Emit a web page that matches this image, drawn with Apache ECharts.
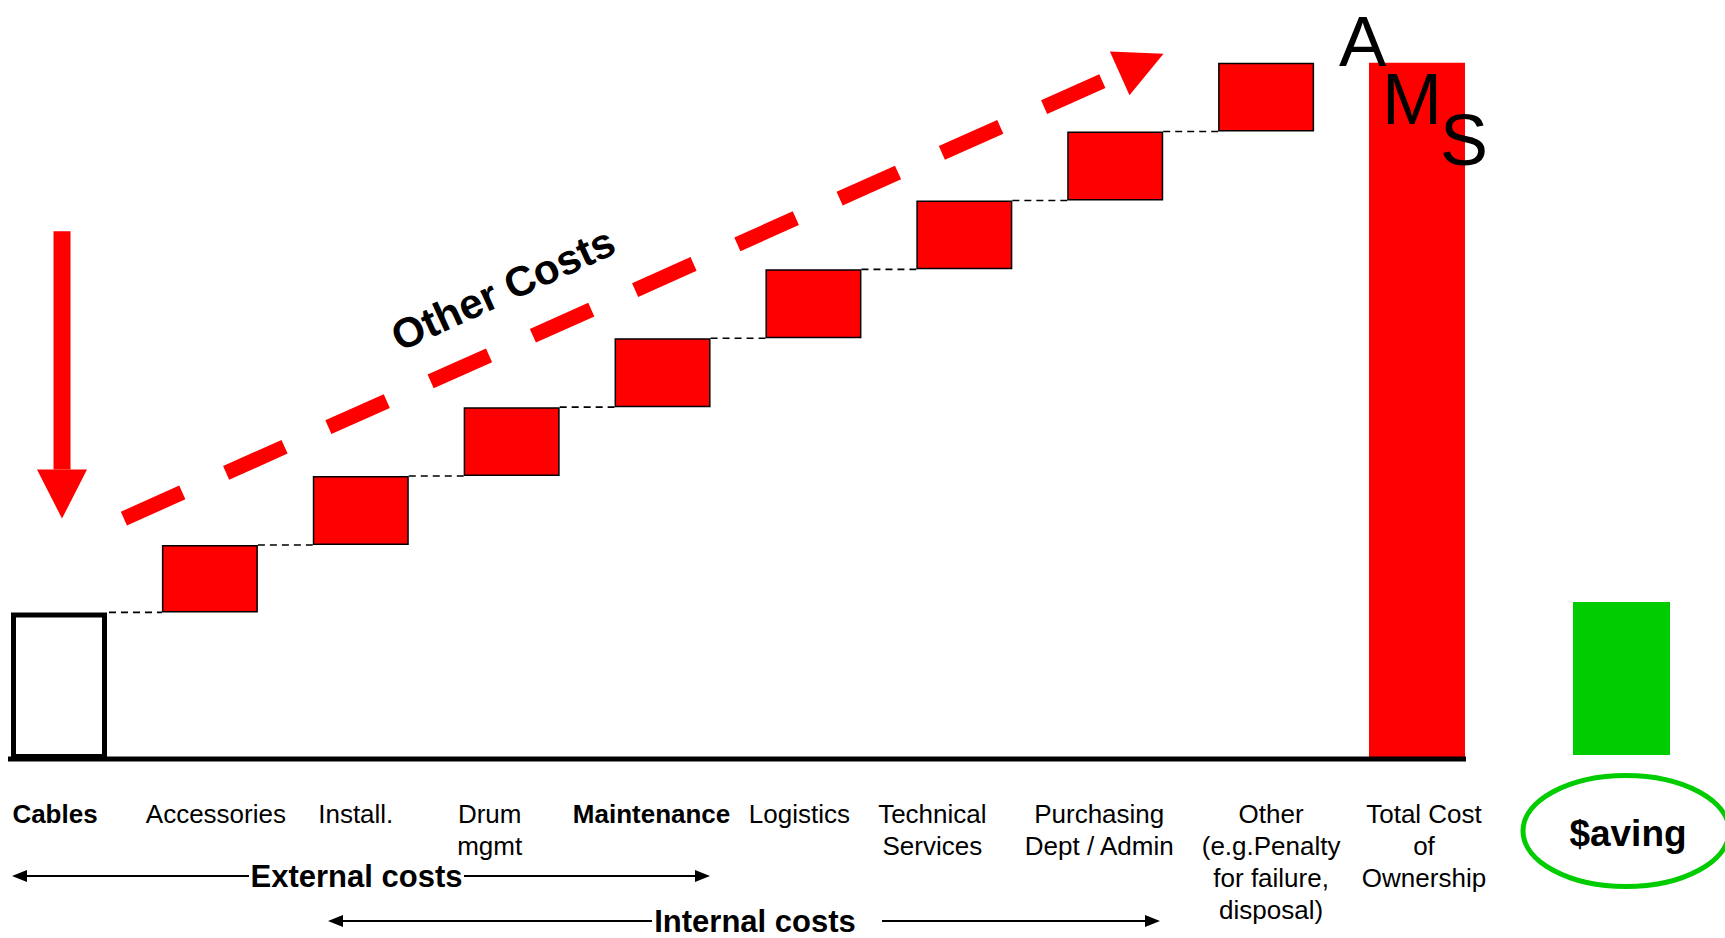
<!DOCTYPE html>
<html><head><meta charset="utf-8">
<script src="https://cdn.jsdelivr.net/npm/echarts@6/dist/echarts.min.js"></script>
<style>html,body{margin:0;padding:0;background:#fff}#c{width:1725px;height:938px}</style>
</head><body><div id="c"></div>
<script>
// ---------- data ----------
const categories = ['Cables', 'Accessories', 'Install.', 'Drum\nmgmt', 'Maintenance', 'Logistics',
  'Technical\nServices', 'Purchasing\nDept / Admin', 'Other\n(e.g.Penalty\nfor failure,\ndisposal)',
  'Total Cost\nof\nOwnership'];
const boldCategories = ['Cables', 'Maintenance'];
const cablesCost = 100;
const otherCosts = [46, 47, 47, 47, 47, 47, 47, 47];   // Accessories ... Other
const savingValue = 105;
const savingLabel = '$aving';
const trendLabel = 'Other Costs';
const amsLetters = ['A', 'M', 'S'];
const externalLabel = 'External costs';
const internalLabel = 'Internal costs';
// annotation anchors in data units [category index, cost]
const downArrow = [[0.02, 360], [0.02, 164]];
const trendArrow = [[0.43, 164], [7.32, 481]];

// ---------- derived waterfall ----------
const baseVals = [0];
const costVals = [cablesCost];
let running = cablesCost;
otherCosts.forEach(v => { baseVals.push(running); costVals.push(v); running += v; });
baseVals.push(0); costVals.push(running);

// ---------- styles ----------
const FONT = '"Liberation Sans", Arial, Helvetica, sans-serif';
const RED = '#FF0000', GREEN = '#00CC00';
const BAR_W = 96;
const labelDx = [-4, 6, -5, -22, -11, -14, -32, -16, 5, 7];

const chart = echarts.init(document.getElementById('c'), null, {renderer: 'svg', width: 1725, height: 938});

const costData = costVals.map((v, i) => {
  let st;
  if (i === 0) st = {color: '#FFFFFF', borderColor: '#000', borderWidth: 5};
  else if (i === costVals.length - 1) st = {color: RED, borderWidth: 0};
  else st = {color: RED, borderColor: '#000', borderWidth: 1.5};
  return {value: v, itemStyle: st};
});

const last = categories.length - 1;

chart.setOption({
  animation: false,
  backgroundColor: '#FFFFFF',
  grid: [
    {left: 59, width: 1358, top: 26, bottom: 179},
    {left: 1561.5, width: 120, top: 26, bottom: 183}
  ],
  xAxis: [
    {type: 'category', gridIndex: 0, data: categories, boundaryGap: false, show: false},
    {type: 'value', gridIndex: 0, min: 0, max: last, show: false},
    {type: 'category', gridIndex: 1, data: [savingLabel], show: false}
  ],
  yAxis: [
    {type: 'value', gridIndex: 0, min: 0, max: 500, show: false},
    {type: 'value', gridIndex: 1, min: 0, max: 500, show: false}
  ],
  series: [
    {name: 'base', type: 'bar', xAxisIndex: 0, yAxisIndex: 0, stack: 'w', barWidth: BAR_W, clip: false,
      data: baseVals, itemStyle: {color: 'rgba(0,0,0,0)'}, silent: true, z: 3},
    {name: 'cost', type: 'bar', xAxisIndex: 0, yAxisIndex: 0, stack: 'w', barWidth: BAR_W, clip: false,
      data: costData, silent: true, z: 3},
    {name: 'saving', type: 'bar', xAxisIndex: 2, yAxisIndex: 1, barWidth: 97,
      data: [savingValue], itemStyle: {color: GREEN}, silent: true, z: 3}
  ]
});

// ---------- overlays computed through the chart's scales ----------
const P = (x, y) => chart.convertToPixel({xAxisIndex: 1, yAxisIndex: 0}, [x, y]);
const g = [];
function txt(x, y, text, size, weight, align, valign, extra) {
  return {type: 'text', x: x, y: y, z: 100, silent: true,
    style: Object.assign({text: text, x: 0, y: 0, fill: '#000',
      font: (weight || 'normal') + ' ' + size + 'px ' + FONT,
      align: align, textAlign: align, verticalAlign: valign, textVerticalAlign: valign}, extra || {})};
}
function poly(points, fill, z) {
  return {type: 'polygon', z: z || 90, silent: true, shape: {points: points}, style: {fill: fill, stroke: null}};
}
function line(x1, y1, x2, y2, stroke, w, dash, z) {
  return {type: 'line', z: z || 90, silent: true, shape: {x1, y1, x2, y2},
    style: {stroke: stroke, lineWidth: w, lineDash: dash || null, lineCap: 'butt'}};
}

const p0 = P(0, 0), pLast = P(last, 0);
// baseline (behind bars)
g.push(line(p0[0] - BAR_W / 2 - 3, p0[1], pLast[0] + BAR_W / 2 + 1, p0[1], '#000', 5, null, 0));

// dotted connectors between steps
for (let i = 0; i < costVals.length - 2; i++) {
  const top = baseVals[i] + costVals[i];
  const a = P(i, top), b = P(i + 1, top);
  g.push(line(a[0] + BAR_W / 2 + (i === 0 ? 2 : 0), a[1], b[0] - BAR_W / 2, a[1], '#000', 1.6, [7, 5], 90));
}

// down arrow
{
  const a = P(downArrow[0][0], downArrow[0][1]);
  const t = P(downArrow[1][0], downArrow[1][1]);
  const headL = 49, headH = 25, shaftW = 17;
  g.push({type: 'rect', z: 90, silent: true,
    shape: {x: a[0] - shaftW / 2, y: a[1], width: shaftW, height: t[1] - headL - a[1]}, style: {fill: RED}});
  g.push(poly([[t[0], t[1]], [t[0] - headH, t[1] - headL], [t[0] + headH, t[1] - headL]], RED));
}

// dashed trend arrow
{
  const s = P(trendArrow[0][0], trendArrow[0][1]);
  const t = P(trendArrow[1][0], trendArrow[1][1]);
  const dx = t[0] - s[0], dy = t[1] - s[1], len = Math.hypot(dx, dy);
  const ux = dx / len, uy = dy / len, nx = -uy, ny = ux;
  const headL = 48, headH = 24, gap = 19;
  const e = [t[0] - ux * (headL + gap), t[1] - uy * (headL + gap)];
  g.push(line(s[0], s[1], e[0], e[1], RED, 15, [64, 48], 90));
  const bc = [t[0] - ux * headL, t[1] - uy * headL];
  g.push(poly([[t[0], t[1]], [bc[0] + nx * headH, bc[1] + ny * headH], [bc[0] - nx * headH, bc[1] - ny * headH]], RED));
}

// "Other Costs"
{
  const o = txt(503, 289, trendLabel, 42, 'bold', 'center', 'middle');
  o.rotation = 24.5 * Math.PI / 180;
  g.push(o);
}

// AMS letters
g.push(txt(1339, 41, amsLetters[0], 71, 'normal', 'left', 'middle'));
g.push(txt(1382, 98.5, amsLetters[1], 72, 'normal', 'left', 'middle'));
g.push(txt(1440, 140, amsLetters[2], 72, 'normal', 'left', 'middle'));

// category labels
categories.forEach((c, i) => {
  const p = P(i, 0);
  g.push(txt(p[0] + labelDx[i], 798, c, 26, boldCategories.includes(c) ? 'bold' : 'normal', 'center', 'top', {lineHeight: 32}));
});

// saving label and ellipse
g.push({type: 'ellipse', z: 90, silent: true, shape: {cx: 1626, cy: 831, rx: 103, ry: 55.5},
  style: {fill: null, stroke: GREEN, lineWidth: 5}});
g.push(txt(1628, 833, savingLabel, 37, 'bold', 'center', 'middle'));

// external / internal cost spans
function span(xL, xR, y, tL, tR) {
  const hl = 15, hh = 6;
  g.push(line(xL + hl, y, tL, y, '#000', 2));
  g.push(line(tR, y, xR - hl, y, '#000', 2));
  g.push(poly([[xL, y], [xL + hl, y - hh], [xL + hl, y + hh]], '#000'));
  g.push(poly([[xR, y], [xR - hl, y - hh], [xR - hl, y + hh]], '#000'));
}
span(12, 710, 876, 249, 464);
g.push(txt(356.5, 876, externalLabel, 31, 'bold', 'center', 'middle', {lineHeight: 31}));
span(328, 1160, 921, 652, 882);
g.push(txt(755, 921, internalLabel, 31, 'bold', 'center', 'middle', {lineHeight: 31}));

chart.setOption({graphic: {elements: g}});
</script>
</body></html>
